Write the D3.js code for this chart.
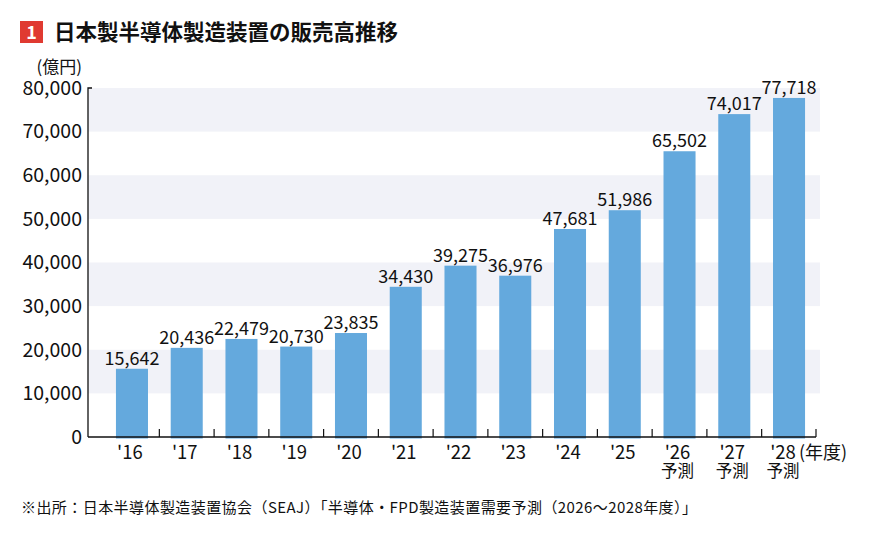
<!DOCTYPE html>
<html>
<head>
<meta charset="utf-8">
<script src="https://cdn.jsdelivr.net/npm/d3@7.9.0/dist/d3.min.js"></script>
<style>
  body { margin: 0; background: #fff; }
  svg { display: block; font-family: "Noto Sans CJK JP", "Noto Sans", sans-serif; }
</style>
</head>
<body>
<div id="chart"></div>
<script>
const years = ["'16", "'17", "'18", "'19", "'20", "'21", "'22", "'23", "'24", "'25", "'26", "'27", "'28"];
const sales = [15642, 20436, 22479, 20730, 23835, 34430, 39275, 36976, 47681, 51986, 65502, 74017, 77718];
const forecast = [false, false, false, false, false, false, false, false, false, false, true, true, true];
const yTicks = [0, 10000, 20000, 30000, 40000, 50000, 60000, 70000, 80000];

const width = 869;
const height = 535;

const svg = d3.select('#chart')
  .append('svg')
  .attr('width', width)
  .attr('height', height);

const x = d3.scaleBand()
  .domain(years)
  .range([105, 816])
  .paddingInner(0.415)
  .paddingOuter(0.2);

const y = d3.scaleLinear()
  .domain([0, 80000])
  .range([437, 88]);

// title
svg.append('rect')
  .attr('x', 20).attr('y', 21).attr('width', 23).attr('height', 22)
  .attr('fill', '#e03a31');
svg.append('text')
  .attr('x', 31.5).attr('y', 39)
  .attr('text-anchor', 'middle')
  .attr('fill', '#fff')
  .attr('font-weight', 'bold')
  .attr('font-size', 18)
  .text('1');
svg.append('text')
  .attr('x', 54).attr('y', 40)
  .attr('font-weight', 'bold')
  .attr('font-size', 21.5)
  .attr('fill', '#111')
  .text('日本製半導体製造装置の販売高推移');

// shaded bands
const bands = yTicks.slice(0, -1).filter((d, i) => i % 2 === 1);
svg.append('g')
  .selectAll('rect')
  .data(bands)
  .join('rect')
  .attr('x', 88)
  .attr('width', 820 - 88)
  .attr('y', d => y(d + 10000))
  .attr('height', d => y(d) - y(d + 10000))
  .attr('fill', '#f1f2f8');

// bars
svg.append('g')
  .selectAll('rect')
  .data(sales)
  .join('rect')
  .attr('x', (d, i) => x(years[i]))
  .attr('width', x.bandwidth())
  .attr('y', d => y(d))
  .attr('height', d => y(0) - y(d) + 1.5)
  .attr('fill', '#64a9dd');

// value labels
svg.append('g')
  .selectAll('text')
  .data(sales)
  .join('text')
  .attr('x', (d, i) => x(years[i]) + x.bandwidth() / 2)
  .attr('y', d => y(d) - 4)
  .attr('text-anchor', 'middle')
  .attr('font-size', 18)
  .attr('fill', '#111')
  .text(d => d3.format(',')(d));

// y axis
const yAxis = svg.append('g')
  .attr('transform', 'translate(88,0)')
  .call(d3.axisLeft(y).tickValues(yTicks).tickFormat(d3.format(',')).tickSize(0).tickPadding(6));
yAxis.select('.domain').remove();
yAxis.selectAll('text')
  .attr('font-size', 19.5)
  .attr('fill', '#111')
  .attr('font-family', '"Noto Sans CJK JP", sans-serif');
svg.append('path')
  .attr('d', `M92,${y(80000)}H88V${y(0)}`)
  .attr('fill', 'none')
  .attr('stroke', '#111')
  .attr('stroke-width', 1.3);

svg.append('text')
  .attr('x', 82).attr('y', 73)
  .attr('text-anchor', 'end')
  .attr('font-size', 17)
  .attr('fill', '#111')
  .text('(億円)');

// x axis
const bottom = y(0);
svg.append('path')
  .attr('d', `M88,${bottom}H816`)
  .attr('stroke', '#111')
  .attr('stroke-width', 1.3);
const divs = years.slice(1).map(d => x(d) - x.step() * x.paddingInner() / 2).concat([816]);
svg.append('g')
  .selectAll('line')
  .data(divs)
  .join('line')
  .attr('x1', d => d).attr('x2', d => d)
  .attr('y1', bottom - 8).attr('y2', bottom)
  .attr('stroke', '#111')
  .attr('stroke-width', 1.2);

const xl = svg.append('g')
  .selectAll('g')
  .data(years)
  .join('g')
  .attr('transform', (d, i) => `translate(${x(d) + x.bandwidth() / 2 - (i === years.length - 1 ? 6 : 2)},0)`);
xl.append('text')
  .attr('y', 459)
  .attr('text-anchor', 'middle')
  .attr('font-size', 18.5)
  .attr('fill', '#111')
  .text(d => d);
xl.filter((d, i) => forecast[i])
  .append('text')
  .attr('y', 477)
  .attr('text-anchor', 'middle')
  .attr('font-size', 16.5)
  .attr('fill', '#111')
  .text('予測');

svg.append('text')
  .attr('x', 799).attr('y', 459)
  .attr('font-size', 18)
  .attr('fill', '#111')
  .text('(年度)');

// footnote
svg.append('text')
  .attr('x', 21).attr('y', 513)
  .attr('font-size', 15)
  .attr('fill', '#111')
  .attr('textLength', 676)
  .attr('lengthAdjust', 'spacing')
  .text('※出所：日本半導体製造装置協会（SEAJ）「半導体・FPD製造装置需要予測（2026～2028年度）」');
</script>
</body>
</html>
